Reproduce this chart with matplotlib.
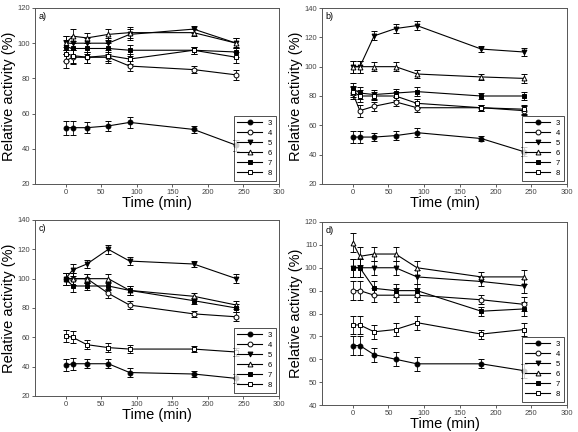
import matplotlib
matplotlib.use("Agg")
import matplotlib.pyplot as plt
from matplotlib.lines import Line2D

plt.rcParams["font.family"] = ["Liberation Sans", "DejaVu Sans"]

time = [0, 10, 30, 60, 90, 180, 240]
labels = ["3", "4", "5", "6", "7", "8"]

# panel a)
a3 = [52, 52, 52, 53, 55, 51, 42]
a4 = [90, 92, 92, 92, 87, 85, 82]
a5 = [100, 100, 100, 100, 105, 108, 100]
a6 = [100, 104, 103, 105, 106, 106, 100]
a7 = [98, 97, 97, 97, 96, 96, 95]
a8 = [94, 93, 92, 93, 91, 96, 92]
# panel b)
b3 = [52, 52, 52, 53, 55, 51, 42]
b4 = [82, 70, 73, 76, 72, 72, 70]
b5 = [100, 100, 121, 126, 128, 112, 110]
b6 = [100, 100, 100, 100, 95, 93, 92]
b7 = [85, 82, 81, 82, 83, 80, 80]
b8 = [83, 80, 80, 80, 75, 72, 71]
# panel c)
c3 = [41, 42, 42, 42, 36, 35, 32]
c4 = [100, 100, 100, 90, 82, 76, 74]
c5 = [100, 106, 110, 120, 112, 110, 100]
c6 = [100, 100, 100, 100, 92, 88, 82]
c7 = [100, 95, 95, 95, 92, 85, 80]
c8 = [61, 60, 55, 53, 52, 52, 50]
# panel d)
d3 = [66, 66, 62, 60, 58, 58, 55]
d4 = [90, 90, 88, 88, 88, 86, 84]
d5 = [100, 100, 100, 100, 96, 94, 92]
d6 = [111, 105, 106, 106, 100, 96, 96]
d7 = [100, 100, 91, 90, 90, 81, 82]
d8 = [75, 75, 72, 73, 76, 71, 73]

err = [4, 4, 3, 3, 3, 2, 3]

markers = ["o", "o", "v", "^", "s", "s"]
filled = [True, False, True, False, True, False]

panels = [
    ("a)", [a3, a4, a5, a6, a7, a8], (20, 120), [20, 40, 60, 80, 100, 120],
     [35, 8, 279, 184]),
    ("b)", [b3, b4, b5, b6, b7, b8], (20, 140), [20, 40, 60, 80, 100, 120, 140],
     [322, 8, 567, 184]),
    ("c)", [c3, c4, c5, c6, c7, c8], (20, 140), [20, 40, 60, 80, 100, 120, 140],
     [35, 220, 279, 396]),
    ("d)", [d3, d4, d5, d6, d7, d8], (40, 120), [40, 50, 60, 70, 80, 90, 100, 110, 120],
     [322, 222, 567, 405]),
]

W, H = 578, 432
fig = plt.figure(figsize=(W / 100, H / 100), dpi=100)

for tag, series, ylim, yticks, (x0, y0, x1, y1) in panels:
    ax = fig.add_axes([x0 / W, 1 - y1 / H, (x1 - x0) / W, (y1 - y0) / H])
    handles = []
    for lab, ys, m, f in zip(labels, series, markers, filled):
        fc = "black" if f else "white"
        ax.errorbar(time, ys, yerr=err, color="black", lw=0.8, marker=m, ms=3.5,
                    mfc=fc, mec="black", mew=0.7,
                    elinewidth=0.6, capsize=2, capthick=0.6)
        handles.append(Line2D([], [], color="black", lw=0.8, marker=m, ms=3.5,
                              mfc=fc, mec="black", mew=0.7, label=lab))
    ax.set_xlim(-43, 300)
    ax.set_ylim(*ylim)
    ax.set_xticks([0, 50, 100, 150, 200, 250, 300])
    ax.set_yticks(yticks)
    ax.tick_params(labelsize=5.5, length=2, width=0.6, pad=1.5, colors="#444444")
    for s in ax.spines.values():
        s.set_linewidth(0.7)
        s.set_color("#555555")
    ax.set_xlabel("Time (min)", fontsize=10.5, labelpad=0)
    ax.set_ylabel("Relative activity (%)", fontsize=10.5, labelpad=1)
    ax.text(0.015, 0.98, tag, transform=ax.transAxes, ha="left", va="top", fontsize=6.5)
    lg = ax.legend(handles=handles, loc="lower right", fontsize=5.5, frameon=True,
                   fancybox=False, edgecolor="black", borderpad=0.5,
                   labelspacing=0.35, handlelength=3.2, handletextpad=0.8,
                   borderaxespad=0.4)
    lg.get_frame().set_linewidth(0.6)

fig.savefig("out.png", dpi=100)
